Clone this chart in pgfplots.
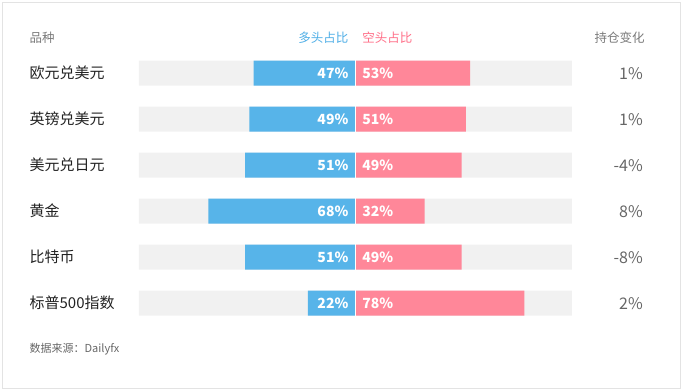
\documentclass[border=0pt]{standalone}
\usepackage{pgfplots}
\usepackage{pgfplotstable}
\pgfplotsset{compat=1.18}
\usepackage{fontspec}
\setmainfont{Noto Sans CJK SC}
\definecolor{longc}{HTML}{57B4E9}
\definecolor{shortc}{HTML}{FF8799}
\definecolor{bgc}{HTML}{F1F1F1}
\definecolor{headc}{HTML}{7A7A7A}
\definecolor{blueh}{HTML}{4FAEE6}
\definecolor{pinkh}{HTML}{FF6F88}
\definecolor{namec}{HTML}{222222}
\definecolor{chc}{HTML}{666666}
\definecolor{framec}{HTML}{E3E3E3}

\pgfplotstableread{
row long short lp sp change name
1 -47 53 47 53 1 欧元兑美元
2 -49 51 49 51 1 英镑兑美元
3 -51 49 51 49 -4 美元兑日元
4 -68 32 68 32 8 黄金
5 -51 49 51 49 -8 比特币
6 -22 78 22 78 2 标普500指数
}\data

\begin{document}
\begin{tikzpicture}
\begin{axis}[
  width=683pt, height=391pt, scale only axis,
  xmin=-164.2, xmax=151.3, ymin=-0.591, ymax=7.909, y dir=reverse,
  hide axis, clip=false,
  bar width=25pt,
]
\draw[framec, line width=1pt] ([shift={(2.5pt,-2.5pt)}]axis cs:-164.2,-0.591) rectangle ([shift={(-2.5pt,2.5pt)}]axis cs:151.3,7.909);

\addplot[xbar, bar shift=0pt, fill=bgc, draw=none] table[x expr=-100, y=row]{\data};
\addplot[xbar, bar shift=0pt, fill=bgc, draw=none] table[x expr=100, y=row]{\data};
\addplot[xbar, bar shift=0pt, fill=longc, draw=none] table[x=long, y=row]{\data};
\addplot[xbar, bar shift=0pt, fill=shortc, draw=none] table[x=short, y=row]{\data};
\addplot[white, line width=1.2pt] coordinates {(0,0.5) (0,6.5)};

\addplot[draw=none, mark=none, point meta=explicit symbolic,
  nodes near coords={\pgfplotspointmeta\%},
  nodes near coords style={anchor=east, inner sep=0pt, text=white, font=\bfseries\fontsize{14}{14}\selectfont}]
  table[x expr=-3.2, y=row, meta=lp]{\data};
\addplot[draw=none, mark=none, point meta=explicit symbolic,
  nodes near coords={\pgfplotspointmeta\%},
  nodes near coords style={anchor=west, inner sep=0pt, text=white, font=\bfseries\fontsize{14}{14}\selectfont}]
  table[x expr=3.1, y=row, meta=sp]{\data};
\addplot[draw=none, mark=none, point meta=explicit symbolic,
  nodes near coords={\pgfplotspointmeta},
  nodes near coords style={anchor=west, inner sep=0pt, text=namec, font=\fontsize{15}{15}\selectfont}]
  table[x expr=-150.6, y=row, meta=name]{\data};
\addplot[draw=none, mark=none, point meta=explicit symbolic,
  nodes near coords={\pgfplotspointmeta\%},
  nodes near coords style={anchor=east, inner sep=0pt, text=chc, font=\fontsize{16}{16}\selectfont}]
  table[x expr=132.8, y=row, meta=change]{\data};

\node[anchor=west, inner sep=0pt, text=headc, font=\fontsize{12.5}{12.5}\selectfont] at (axis cs:-150.6,0.224) {品种};
\node[anchor=east, inner sep=0pt, text=blueh, font=\fontsize{12.5}{12.5}\selectfont] at (axis cs:-3.2,0.224) {多头占比};
\node[anchor=west, inner sep=0pt, text=pinkh, font=\fontsize{12.5}{12.5}\selectfont] at (axis cs:3.1,0.224) {空头占比};
\node[anchor=east, inner sep=0pt, text=headc, font=\fontsize{12.5}{12.5}\selectfont] at (axis cs:133.7,0.224) {持仓变化};
\node[anchor=west, inner sep=0pt, text=chc, font=\fontsize{11}{11}\selectfont] at (axis cs:-150.6,6.996) {数据来源：Dailyfx};
\end{axis}
\pgfresetboundingbox
\path[use as bounding box] (current axis.south west) rectangle (current axis.north east);
\end{tikzpicture}
\end{document}
